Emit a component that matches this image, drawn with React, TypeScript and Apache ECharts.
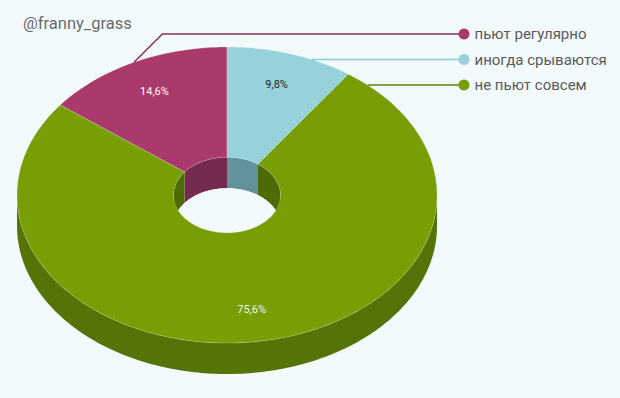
import React, { useEffect, useRef } from "react";
import * as echarts from "echarts";

// ---- data ----
const categories = ["пьют регулярно", "иногда срываются", "не пьют совсем"];
const values = [14.6, 9.8, 75.6];
// clockwise slice order starting at 12 o'clock (indices into categories)
const sliceOrder = [1, 2, 0];
const watermark = "@franny_grass";

// ---- styles ----
const topColors = ["#a93a6b", "#97d1d9", "#779e04"];
const outerWallColors = ["#7d2a50", "#6a9aa2", "#557408"];
const innerWallColors = ["#772a4f", "#62929a", "#4f6b08"];
const lineColors = ["#8f2f5a", "#8ccbd3", "#5f8205"];
const labelColors = ["#ffffff", "#1f1f1f", "#f4f4e6"];
const BG = "#f2fafc";

const CX = 227, CY = 195, RX = 210, RY = 148, IRX = 53.5, IRY = 37.8, DEPTH = 31;
const LABEL_F = 0.78;
const LEG_LEFT = 458.5, LEG_TOP = 26, ITEM = 11, ITEM_GAP = 9.5, LINE_H = 16;
const PITCH = LINE_H + ITEM_GAP;

function pt(t: number, rx: number, ry: number, dy = 0): number[] {
  const a = (t * Math.PI) / 180;
  return [CX + rx * Math.sin(a), CY - ry * Math.cos(a) + dy];
}
function arc(a: number, b: number, rx: number, ry: number, dy = 0): number[][] {
  const n = Math.max(2, Math.ceil(Math.abs(b - a)));
  const out: number[][] = [];
  for (let k = 0; k <= n; k++) out.push(pt(a + ((b - a) * k) / n, rx, ry, dy));
  return out;
}
function inter(s: number, e: number, a: number, b: number): number[] | null {
  const lo = Math.max(s, a), hi = Math.min(e, b);
  return hi > lo ? [lo, hi] : null;
}
function fmt(v: number) {
  return v.toFixed(1).replace(".", ",") + "%";
}

function renderSlice(params: any) {
  const idx = params.seriesIndex;
  let acc = 0;
  for (const j of sliceOrder) {
    if (j === idx) break;
    acc += values[j];
  }
  const start = acc * 3.6;
  const end = (acc + values[idx]) * 3.6;
  const children: any[] = [];

  // inner (back) walls of the hole
  for (const [a, b] of [[0, 90], [270, 360]]) {
    const r = inter(start, end, a, b);
    if (r) {
      children.push({
        type: "polygon",
        z2: 1,
        shape: { points: arc(r[0], r[1], IRX, IRY, 0).concat(arc(r[1], r[0], IRX, IRY, DEPTH)) },
        style: { fill: innerWallColors[idx] },
      });
    }
  }
  if (idx === sliceOrder[0]) {
    children.push({
      type: "ellipse",
      z2: 2,
      shape: { cx: CX, cy: CY + DEPTH, rx: IRX, ry: IRY },
      style: { fill: BG },
    });
  }
  // outer (front) walls
  const f = inter(start, end, 90, 270);
  if (f) {
    children.push({
      type: "polygon",
      z2: 3,
      shape: { points: arc(f[0], f[1], RX, RY, 0).concat(arc(f[1], f[0], RX, RY, DEPTH)) },
      style: { fill: outerWallColors[idx] },
    });
  }
  // top face
  children.push({
    type: "polygon",
    z2: 4,
    shape: { points: arc(start, end, RX, RY).concat(arc(end, start, IRX, IRY)) },
    style: { fill: topColors[idx], stroke: "rgba(255,255,255,0.35)", lineWidth: 0.6 },
  });
  // percentage label
  const mid = (start + end) / 2;
  const lp = pt(mid, RX * LABEL_F, RY * LABEL_F);
  children.push({
    type: "text",
    z2: 10,
    style: {
      text: fmt(values[idx]),
      x: lp[0],
      y: lp[1],
      fill: labelColors[idx],
      font: "11px Roboto",
      align: "center",
      verticalAlign: "middle",
    },
  });
  // leader line to legend
  const ly = LEG_TOP + LINE_H / 2 + idx * PITCH;
  const lx = LEG_LEFT + ITEM / 2;
  let pts: number[][];
  const c = (CY - ly) / RY;
  const hitT = c <= 1 && c >= -1 ? (Math.acos(c) * 180) / Math.PI : NaN;
  if (!isNaN(hitT) && hitT >= start && hitT <= end) {
    pts = [pt(hitT, RX, RY), [lx, ly]];
  } else {
    const p0 = pt(mid, RX, RY);
    const d = p0[1] - ly;
    pts = [p0, [p0[0] + d, ly], [lx, ly]];
  }
  children.push({
    type: "polyline",
    z2: 5,
    shape: { points: pts },
    style: { stroke: lineColors[idx], lineWidth: 1.5, fill: null },
  });
  return { type: "group", children };
}

export default function App() {
  const ref = useRef<HTMLDivElement>(null);
  useEffect(() => {
    document.body.style.margin = "0";
    const chart = echarts.init(ref.current!, null, { renderer: "svg" });
    chart.setOption({
      animation: false,
      backgroundColor: BG,
      title: {
        text: watermark,
        left: 23,
        top: 15,
        padding: 0,
        textStyle: { fontSize: 16.5, fontWeight: "normal", color: "#6a6a6a", fontFamily: "Roboto" },
      },
      legend: {
        orient: "vertical",
        left: LEG_LEFT,
        top: LEG_TOP,
        padding: 0,
        icon: "circle",
        itemWidth: ITEM,
        itemHeight: ITEM,
        itemGap: ITEM_GAP,
        selectedMode: false,
        data: categories,
        textStyle: { fontSize: 15, color: "#595959", fontFamily: "Roboto", lineHeight: LINE_H },
      },
      series: categories.map((name, i) => ({
        type: "custom",
        name,
        coordinateSystem: "none",
        itemStyle: { color: topColors[i] },
        renderItem: renderSlice,
        data: [{ name, value: values[i] }],
      })),
    });
    return () => chart.dispose();
  }, []);
  return <div ref={ref} style={{ width: 620, height: 398 }} />;
}
